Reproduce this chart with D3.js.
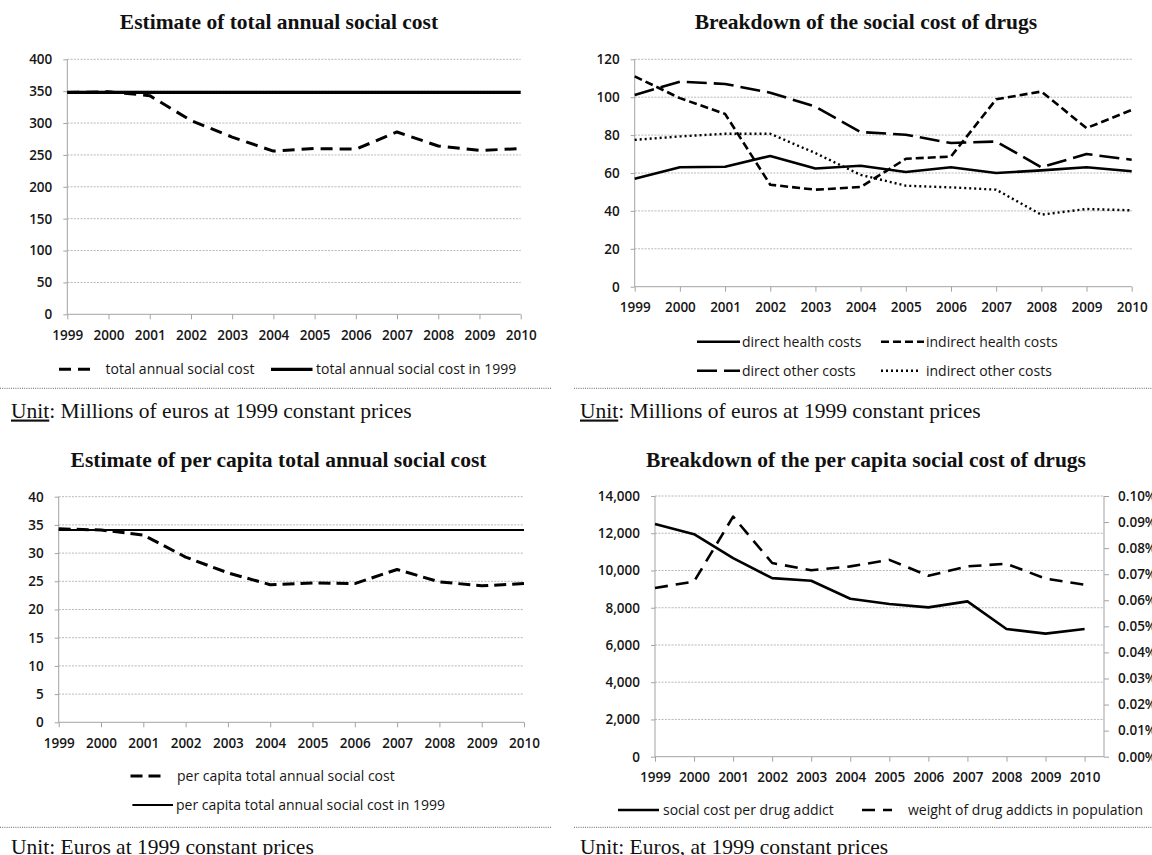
<!DOCTYPE html>
<html><head><meta charset="utf-8">
<script src="https://cdn.jsdelivr.net/npm/d3@7"></script>
<style>body{margin:0;background:#fff} svg{display:block}</style>
</head><body><svg id="c" width="1152" height="855"></svg>
<script>
// ---------- data ----------
const years = ["1999","2000","2001","2002","2003","2004","2005","2006","2007","2008","2009","2010"];

const totalCost      = [348, 349, 343, 304, 278, 256, 260, 259, 286, 264, 257, 260];
const totalCost1999  = [348, 348, 348, 348, 348, 348, 348, 348, 348, 348, 348, 348];
const ticksTotal     = [0, 50, 100, 150, 200, 250, 300, 350, 400];

const directHealth   = [57, 63, 63.3, 69, 62.4, 63.8, 60.5, 63, 60, 61.4, 63, 60.9];
const indirectHealth = [111, 99.5, 91.2, 53.8, 51.2, 52.6, 67.5, 68.7, 98.9, 103, 83.7, 93.3];
const directOther    = [101.2, 108.2, 107, 102.4, 95, 81.6, 80.2, 75.8, 76.6, 63, 70, 67];
const indirectOther  = [77.5, 79.3, 80.7, 80.7, 70.5, 59, 53.3, 52.4, 51.2, 38, 41, 40.3];
const ticksBreakdown = [0, 20, 40, 60, 80, 100, 120];

const perCapita      = [34.3, 34.1, 33.2, 29.3, 26.5, 24.4, 24.7, 24.6, 27.1, 24.9, 24.2, 24.6];
const perCapita1999  = [34.1, 34.1, 34.1, 34.1, 34.1, 34.1, 34.1, 34.1, 34.1, 34.1, 34.1, 34.1];
const ticksPerCapita = [0, 5, 10, 15, 20, 25, 30, 35, 40];

const costPerAddict  = [12500, 11950, 10660, 9590, 9450, 8480, 8200, 8020, 8340, 6860, 6610, 6860];
const addictWeight   = [0.0647, 0.0672, 0.0921, 0.0743, 0.0715, 0.0730, 0.0755, 0.0694, 0.0730, 0.0740, 0.0683, 0.0660];
const ticksAddict    = [0, 2000, 4000, 6000, 8000, 10000, 12000, 14000];
const ticksWeight    = [0, 0.01, 0.02, 0.03, 0.04, 0.05, 0.06, 0.07, 0.08, 0.09, 0.10];

// ---------- drawing ----------
const svg = d3.select("#c");
const SANS = "'Open Sans', 'DejaVu Sans', sans-serif";
const SERIF = "'Liberation Serif', 'Times New Roman', serif";
const AX = "#a3a3a3", TXT = "#161616";

function styleAxis(sel) {
  sel.select(".domain").remove();
  sel.selectAll(".tick line").attr("stroke", AX);
  sel.selectAll(".tick text").attr("fill", TXT).style("font-family", SANS)
    .style("font-size", "13.5px").style("font-weight", "600");
}

function panel(cfg) {
  const g = svg.append("g");
  const x = d3.scalePoint().domain(years).range([cfg.x0, cfg.x1]);
  const y = d3.scaleLinear().domain([0, d3.max(cfg.yticks)]).range([cfg.yb, cfg.yt]);

  g.append("text").attr("x", cfg.tx).attr("y", cfg.ty).attr("dy", "0.35em")
    .attr("text-anchor", "middle").style("font-family", SERIF).style("font-weight", "bold")
    .style("font-size", "21.5px").attr("fill", "#111").text(cfg.title);

  g.append("g").selectAll("line").data(cfg.yticks.filter(d => d > 0)).join("line")
    .attr("x1", cfg.x0).attr("x2", cfg.xend).attr("y1", d => y(d)).attr("y2", d => y(d))
    .attr("stroke", "#b0b0b0").attr("stroke-width", 0.9).attr("stroke-dasharray", "2,1.3");

  const xa = g.append("g").attr("transform", `translate(0,${cfg.yb})`)
    .call(d3.axisBottom(x).tickSize(5).tickPadding(11).tickSizeOuter(0));
  styleAxis(xa);
  const ya = g.append("g").attr("transform", `translate(${cfg.x0},0)`)
    .call(d3.axisLeft(y).tickValues(cfg.yticks).tickFormat(cfg.fmt || d3.format("d")).tickSize(4).tickPadding(11).tickSizeOuter(0));
  styleAxis(ya);
  g.append("line").attr("x1", cfg.x0).attr("x2", cfg.xend).attr("y1", cfg.yb).attr("y2", cfg.yb).attr("stroke", AX);
  g.append("line").attr("x1", cfg.x0).attr("x2", cfg.x0).attr("y1", cfg.yb).attr("y2", cfg.yt).attr("stroke", AX);

  let y2 = null;
  if (cfg.right) {
    y2 = d3.scaleLinear().domain([0, d3.max(cfg.right.ticks)]).range([cfg.yb, cfg.yt]);
    const ra = g.append("g").attr("transform", `translate(${cfg.xend},0)`)
      .call(d3.axisRight(y2).tickValues(cfg.right.ticks).tickFormat(cfg.right.fmt).tickSize(5).tickPadding(9).tickSizeOuter(0));
    styleAxis(ra);
    g.append("line").attr("x1", cfg.xend).attr("x2", cfg.xend).attr("y1", cfg.yb).attr("y2", cfg.yt).attr("stroke", AX);
  }

  cfg.series.forEach(s => {
    const sc = s.right ? y2 : y;
    const line = d3.line().x((d, i) => x(years[i])).y(d => sc(d));
    g.append("path").datum(s.values).attr("d", line).attr("fill", "none")
      .attr("stroke", "#000").attr("stroke-width", s.w).attr("stroke-dasharray", s.dash || null)
      .attr("stroke-linejoin", "round").attr("stroke-linecap", s.cap || "butt");
  });

  cfg.series.forEach(s => {
    const L = s.legend;
    g.append("line").attr("x1", L.x0).attr("x2", L.x1).attr("y1", L.y).attr("y2", L.y)
      .attr("stroke", "#000").attr("stroke-width", s.w).attr("stroke-dasharray", s.dash || null)
      .attr("stroke-linecap", s.cap || "butt");
    g.append("text").attr("x", L.tx).attr("y", L.y).attr("dy", "0.35em")
      .style("font-family", SANS).style("font-size", "14px").attr("fill", TXT).text(s.name);
  });

  g.append("line").attr("x1", cfg.sep[0]).attr("x2", cfg.sep[1]).attr("y1", cfg.sepY).attr("y2", cfg.sepY)
    .attr("stroke", "#666").attr("stroke-width", 1).attr("stroke-dasharray", "1,1.2");

  const u = g.append("text").attr("x", cfg.ux).attr("y", cfg.uy).attr("dy", "0.35em")
    .style("font-family", SERIF).style("font-size", "21.5px").attr("fill", "#111");
  u.append("tspan").style("text-decoration", cfg.underline ? "underline" : "none").text("Unit");
  u.append("tspan").text(cfg.unit);
}

panel({
  title: "Estimate of total annual social cost", tx: 279, ty: 21,
  x0: 67.3, x1: 520.7, xend: 520.7, yb: 314.3, yt: 59.3, yticks: ticksTotal,
  series: [
    {name: "total annual social cost", values: totalCost, w: 3, dash: "12,7",
     legend: {x0: 59, x1: 91, y: 369.3, tx: 105.5}},
    {name: "total annual social cost in 1999", values: totalCost1999, w: 3.2,
     legend: {x0: 271, x1: 312.5, y: 369.3, tx: 316}}
  ],
  sep: [0, 551], sepY: 388.3, ux: 11, uy: 410, underline: true,
  unit: ": Millions of euros at 1999 constant prices"
});

panel({
  title: "Breakdown of the social cost of drugs", tx: 866, ty: 21,
  x0: 634.7, x1: 1131.7, xend: 1131.7, yb: 286.7, yt: 59.3, yticks: ticksBreakdown,
  series: [
    {name: "direct health costs", values: directHealth, w: 2.6,
     legend: {x0: 697, x1: 740, y: 341.7, tx: 742}},
    {name: "indirect health costs", values: indirectHealth, w: 2.6, dash: "8,4",
     legend: {x0: 881, x1: 924, y: 341.7, tx: 926}},
    {name: "direct other costs", values: directOther, w: 2.6, dash: "20,7",
     legend: {x0: 697, x1: 740, y: 370.7, tx: 742}},
    {name: "indirect other costs", values: indirectOther, w: 2.4, dash: "2,3",
     legend: {x0: 881, x1: 921, y: 370.7, tx: 926}}
  ],
  sep: [574, 1152], sepY: 388.3, ux: 580, uy: 410, underline: true,
  unit: ": Millions of euros at 1999 constant prices"
});

panel({
  title: "Estimate of per capita total annual social cost", tx: 278.5, ty: 459.3,
  x0: 58.7, x1: 524, xend: 524, yb: 722.3, yt: 496.7, yticks: ticksPerCapita,
  series: [
    {name: "per capita total annual social cost", values: perCapita, w: 3, dash: "12,6",
     legend: {x0: 130.5, x1: 164, y: 776, tx: 177}},
    {name: "per capita total annual social cost in 1999", values: perCapita1999, w: 2,
     legend: {x0: 132.4, x1: 173, y: 805, tx: 176}}
  ],
  sep: [0, 551], sepY: 827.3, ux: 11, uy: 846.7, underline: false,
  unit: ": Euros at 1999 constant prices"
});

panel({
  title: "Breakdown of the per capita social cost of drugs", tx: 866, ty: 459.3,
  x0: 655, x1: 1084.6, xend: 1104, yb: 756.7, yt: 496, yticks: ticksAddict, fmt: d3.format(","),
  right: {ticks: ticksWeight, fmt: d => d3.format(".2f")(d) + "%"},
  series: [
    {name: "social cost per drug addict", values: costPerAddict, w: 2.6,
     legend: {x0: 618, x1: 659, y: 810, tx: 663}},
    {name: "weight of drug addicts in population", values: addictWeight, w: 2.6, dash: "13,8", right: true,
     legend: {x0: 862, x1: 892, y: 810, tx: 908}}
  ],
  sep: [574, 1152], sepY: 827.3, ux: 580, uy: 846.7, underline: false,
  unit: ": Euros, at 1999 constant prices"
});
</script></body></html>
